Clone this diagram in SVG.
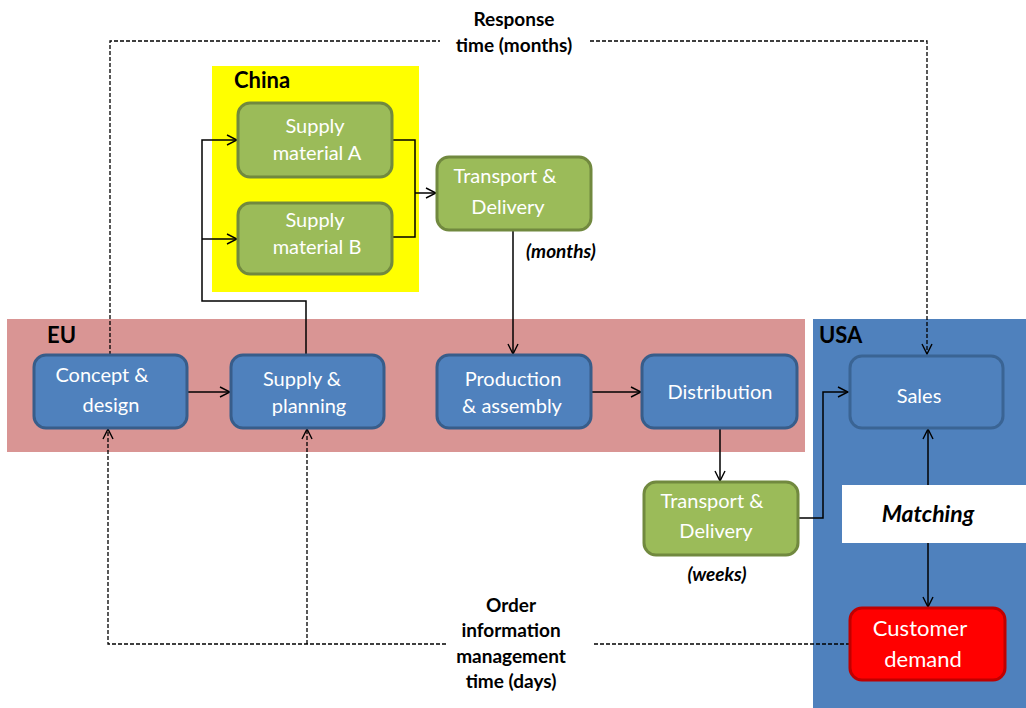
<svg xmlns="http://www.w3.org/2000/svg" width="1026" height="708" viewBox="0 0 1026 708">
  <defs>
    <marker id="open" viewBox="0 0 12 12" refX="11" refY="6" markerWidth="12" markerHeight="12" markerUnits="userSpaceOnUse" orient="auto">
      <path d="M1,1 L11,6 L1,11" fill="none" stroke="#000" stroke-width="1.4"/>
    </marker>
  </defs>
  <style>
    .txt { font-family: Lato, "Open Sans", "Liberation Sans", sans-serif; }
    .node-text { font-size: 20px; fill: #ffffff; text-anchor: middle; }
    .region { font-size: 22px; font-weight: bold; fill: #000; }
    .note { font-size: 19px; font-weight: bold; fill: #000; text-anchor: middle; }
    .noteit { font-size: 19px; font-weight: bold; font-style: italic; fill: #000; text-anchor: middle; }
    .blue { fill: #4F81BD; stroke: #385D8A; stroke-width: 3; }
    .green { fill: #9BBB59; stroke: #71893F; stroke-width: 3; }
    .red { fill: #FF0000; stroke: #C00000; stroke-width: 3; }
    .solid { fill: none; stroke: #000; stroke-width: 1.5; }
    .dash { fill: none; stroke: #000; stroke-width: 1.3; stroke-dasharray: 4 2; }
  </style>

  <rect width="1026" height="708" fill="#ffffff"/>

  <!-- regions -->
  <g id="region-china">
    <rect x="212" y="66" width="207" height="226" fill="#FFFF00"/>
    <text class="txt region" x="234" y="88">China</text>
  </g>
  <g id="region-eu">
    <rect x="7" y="319" width="798" height="133" fill="#D99594"/>
    <text class="txt region" x="47" y="343">EU</text>
  </g>
  <g id="region-usa">
    <rect x="813" y="319" width="213" height="389" fill="#4F81BD"/>
    <text class="txt region" x="819" y="343">USA</text>
  </g>

  <!-- connectors -->
  <g id="connectors">
    <path class="solid" d="M187,392 H230" marker-end="url(#open)"/>
    <path class="solid" d="M306,355 V301 H202 V140 H237" marker-end="url(#open)"/>
    <path class="solid" d="M202,239 H237" marker-end="url(#open)"/>
    <path class="solid" d="M392,140 H415 V237 H392"/>
    <path class="solid" d="M415,193 H436" marker-end="url(#open)"/>
    <path class="solid" d="M513,230 V354" marker-end="url(#open)"/>
    <path class="solid" d="M591,392 H641" marker-end="url(#open)"/>
    <path class="solid" d="M720,428 V481" marker-end="url(#open)"/>
    <path class="solid" d="M798,518 H823 V392 H848" marker-end="url(#open)"/>
    <path class="solid" d="M928,485 V429" marker-end="url(#open)"/>
    <path class="solid" d="M928,543 V607" marker-end="url(#open)"/>
    <!-- response time loop -->
    <path class="dash" d="M110,355 V41 H440"/>
    <path class="dash" d="M590,41 H927 V354" marker-end="url(#open)"/>
    <!-- order information loop -->
    <path class="dash" d="M850,644 H592"/>
    <path class="dash" d="M446,644 H108 V429" marker-end="url(#open)"/>
    <path class="dash" d="M307,644 V429" marker-end="url(#open)"/>
  </g>

  <!-- matching label -->
  <g id="matching">
    <rect x="842" y="485" width="184" height="58" fill="#ffffff"/>
    <text class="txt noteit" x="928" y="522" style="font-size:23px">Matching</text>
  </g>

  <!-- nodes -->
  <g id="supply-material-a">
    <rect class="green" x="238" y="103" width="154" height="74" rx="12"/>
    <text class="txt node-text" x="315" y="133">Supply</text>
    <text class="txt node-text" x="317" y="160">material A</text>
  </g>
  <g id="supply-material-b">
    <rect class="green" x="238" y="203" width="154" height="71" rx="12"/>
    <text class="txt node-text" x="315" y="227">Supply</text>
    <text class="txt node-text" x="317" y="254">material B</text>
  </g>
  <g id="transport-delivery-months">
    <rect class="green" x="437" y="157" width="154" height="73" rx="12"/>
    <text class="txt node-text" x="505" y="183">Transport &amp;</text>
    <text class="txt node-text" x="508" y="214">Delivery</text>
  </g>
  <g id="concept-design">
    <rect class="blue" x="34" y="355" width="153" height="73" rx="12"/>
    <text class="txt node-text" x="102" y="382">Concept &amp;</text>
    <text class="txt node-text" x="111" y="412">design</text>
  </g>
  <g id="supply-planning">
    <rect class="blue" x="231" y="355" width="153" height="73" rx="12"/>
    <text class="txt node-text" x="302" y="386">Supply &amp;</text>
    <text class="txt node-text" x="309" y="413">planning</text>
  </g>
  <g id="production-assembly">
    <rect class="blue" x="437" y="355" width="154" height="73" rx="12"/>
    <text class="txt node-text" x="513" y="386">Production</text>
    <text class="txt node-text" x="512" y="413">&amp; assembly</text>
  </g>
  <g id="distribution">
    <rect class="blue" x="642" y="355" width="155" height="73" rx="12"/>
    <text class="txt node-text" x="720" y="399">Distribution</text>
  </g>
  <g id="sales">
    <rect x="850" y="356" width="153" height="72" rx="12" fill="#4F81BD" stroke="#3A6494" stroke-width="3"/>
    <text class="txt node-text" x="919" y="403">Sales</text>
  </g>
  <g id="transport-delivery-weeks">
    <rect class="green" x="644" y="482" width="154" height="73" rx="12"/>
    <text class="txt node-text" x="712" y="508">Transport &amp;</text>
    <text class="txt node-text" x="716" y="538">Delivery</text>
  </g>
  <g id="customer-demand">
    <rect class="red" x="850" y="608" width="155" height="72" rx="12"/>
    <text class="txt node-text" x="920" y="636" style="font-size:22px">Customer</text>
    <text class="txt node-text" x="923" y="667" style="font-size:22px">demand</text>
  </g>

  <!-- annotations -->
  <g id="annotations">
    <text class="txt note" x="514" y="26">Response</text>
    <text class="txt note" x="514" y="52">time (months)</text>
    <text class="txt noteit" x="561" y="258">(months)</text>
    <text class="txt noteit" x="717" y="581">(weeks)</text>
    <text class="txt note" x="511" y="612">Order</text>
    <text class="txt note" x="511" y="637">information</text>
    <text class="txt note" x="511" y="663">management</text>
    <text class="txt note" x="511" y="688">time (days)</text>
  </g>
</svg>
